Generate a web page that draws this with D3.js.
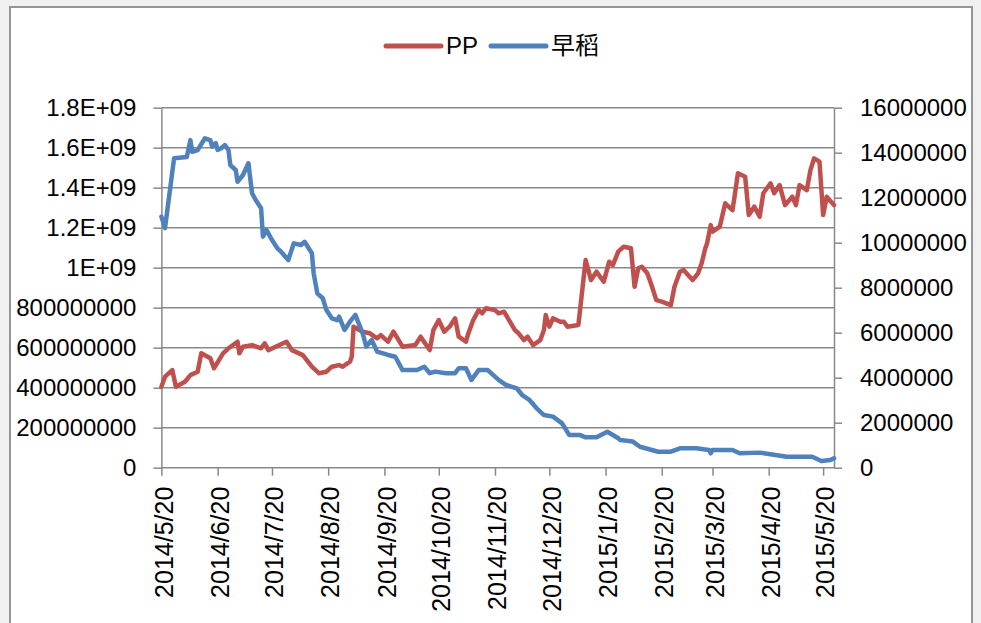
<!DOCTYPE html>
<html><head><meta charset="utf-8">
<script src="https://cdn.jsdelivr.net/npm/d3@7/dist/d3.min.js"></script>
<style>
html,body{margin:0;padding:0;background:#f0f0f0;}
svg{display:block;}
</style></head>
<body>
<svg id="chart" width="981" height="623"></svg>
<script>
// ---- data ----
const seriesNames = ["PP", "早稻"];
const xTickLabels = ["2014/5/20","2014/6/20","2014/7/20","2014/8/20","2014/9/20","2014/10/20","2014/11/20","2014/12/20","2015/1/20","2015/2/20","2015/3/20","2015/4/20","2015/5/20"];
const leftTickLabels = ["0","200000000","400000000","600000000","800000000","1E+09","1.2E+09","1.4E+09","1.6E+09","1.8E+09"];
const rightTickLabels = ["0","2000000","4000000","6000000","8000000","10000000","12000000","14000000","16000000"];

const ppDates = ["2014-05-20","2014-05-22","2014-05-26","2014-05-28","2014-06-02","2014-06-05","2014-06-09","2014-06-11","2014-06-16","2014-06-18","2014-06-23","2014-06-26","2014-07-01","2014-07-02","2014-07-04","2014-07-09","2014-07-14","2014-07-16","2014-07-18","2014-07-22","2014-07-28","2014-07-31","2014-08-06","2014-08-11","2014-08-15","2014-08-19","2014-08-22","2014-08-26","2014-08-28","2014-09-01","2014-09-02","2014-09-03","2014-09-08","2014-09-12","2014-09-16","2014-09-18","2014-09-22","2014-09-25","2014-09-30","2014-10-07","2014-10-10","2014-10-15","2014-10-17","2014-10-20","2014-10-23","2014-10-26","2014-10-29","2014-10-31","2014-11-04","2014-11-05","2014-11-08","2014-11-11","2014-11-13","2014-11-15","2014-11-20","2014-11-22","2014-11-25","2014-12-01","2014-12-03","2014-12-06","2014-12-08","2014-12-11","2014-12-15","2014-12-17","2014-12-18","2014-12-20","2014-12-22","2014-12-26","2014-12-28","2014-12-30","2015-01-05","2015-01-09","2015-01-12","2015-01-15","2015-01-19","2015-01-22","2015-01-24","2015-01-27","2015-01-30","2015-02-03","2015-02-05","2015-02-07","2015-02-09","2015-02-12","2015-02-14","2015-02-17","2015-02-20","2015-02-25","2015-02-27","2015-03-02","2015-03-04","2015-03-09","2015-03-12","2015-03-14","2015-03-16","2015-03-17","2015-03-19","2015-03-20","2015-03-24","2015-03-27","2015-03-31","2015-04-01","2015-04-03","2015-04-07","2015-04-09","2015-04-12","2015-04-15","2015-04-17","2015-04-21","2015-04-23","2015-04-26","2015-04-29","2015-05-03","2015-05-05","2015-05-07","2015-05-11","2015-05-13","2015-05-15","2015-05-18","2015-05-20","2015-05-22","2015-05-26"];
const ppValues = [405e6,455e6,488e6,405e6,430e6,463e6,480e6,572e6,547e6,497e6,572e6,597e6,630e6,572e6,605e6,613e6,597e6,622e6,588e6,605e6,630e6,588e6,563e6,505e6,472e6,480e6,505e6,513e6,505e6,530e6,555e6,705e6,680e6,672e6,647e6,663e6,630e6,680e6,605e6,613e6,655e6,588e6,688e6,738e6,680e6,705e6,747e6,655e6,630e6,663e6,738e6,788e6,772e6,797e6,788e6,772e6,780e6,688e6,672e6,638e6,655e6,613e6,638e6,688e6,763e6,705e6,747e6,730e6,730e6,705e6,713e6,1038e6,938e6,980e6,930e6,1030e6,1013e6,1080e6,1105e6,1097e6,905e6,997e6,1005e6,972e6,922e6,838e6,830e6,813e6,905e6,980e6,988e6,938e6,972e6,1022e6,1097e6,1122e6,1213e6,1180e6,1205e6,1322e6,1288e6,1347e6,1472e6,1455e6,1263e6,1305e6,1255e6,1372e6,1422e6,1372e6,1413e6,1313e6,1355e6,1313e6,1413e6,1388e6,1488e6,1547e6,1530e6,1263e6,1355e6,1313e6];

const riceDates = ["2014-05-20","2014-05-22","2014-05-27","2014-06-03","2014-06-05","2014-06-06","2014-06-09","2014-06-13","2014-06-16","2014-06-17","2014-06-19","2014-06-20","2014-06-22","2014-06-24","2014-06-26","2014-06-27","2014-06-30","2014-07-01","2014-07-04","2014-07-07","2014-07-09","2014-07-11","2014-07-14","2014-07-15","2014-07-17","2014-07-20","2014-07-23","2014-07-25","2014-07-29","2014-08-01","2014-08-05","2014-08-07","2014-08-11","2014-08-12","2014-08-14","2014-08-17","2014-08-19","2014-08-22","2014-08-25","2014-08-26","2014-08-29","2014-09-01","2014-09-04","2014-09-08","2014-09-10","2014-09-13","2014-09-16","2014-09-22","2014-09-26","2014-09-30","2014-10-08","2014-10-12","2014-10-15","2014-10-18","2014-10-24","2014-10-29","2014-10-31","2014-11-04","2014-11-07","2014-11-11","2014-11-16","2014-11-22","2014-11-26","2014-12-02","2014-12-05","2014-12-09","2014-12-13","2014-12-17","2014-12-22","2014-12-27","2014-12-31","2015-01-06","2015-01-09","2015-01-15","2015-01-21","2015-01-27","2015-01-28","2015-02-04","2015-02-08","2015-02-18","2015-02-25","2015-03-02","2015-03-11","2015-03-18","2015-03-19","2015-03-20","2015-03-31","2015-04-04","2015-04-15","2015-04-20","2015-04-30","2015-05-14","2015-05-19","2015-05-24","2015-05-26"];
const riceValues = [11.16e6,10.65e6,13.75e6,13.81e6,14.56e6,14.04e6,14.12e6,14.64e6,14.56e6,14.27e6,14.42e6,14.12e6,14.20e6,14.34e6,14.12e6,13.45e6,13.23e6,12.71e6,13.01e6,13.53e6,12.2e6,11.9e6,11.53e6,10.27e6,10.56e6,10.12e6,9.75e6,9.6e6,9.23e6,9.97e6,9.9e6,10.04e6,9.53e6,8.64e6,7.75e6,7.53e6,7.01e6,6.64e6,6.56e6,6.71e6,6.12e6,6.49e6,6.79e6,5.97e6,5.38e6,5.68e6,5.16e6,5.01e6,4.93e6,4.34e6,4.34e6,4.49e6,4.2e6,4.27e6,4.2e6,4.2e6,4.42e6,4.42e6,3.9e6,4.34e6,4.34e6,3.9e6,3.68e6,3.53e6,3.23e6,3.01e6,2.64e6,2.34e6,2.27e6,1.97e6,1.45e6,1.45e6,1.35e6,1.35e6,1.6e6,1.31e6,1.23e6,1.16e6,0.93e6,0.71e6,0.71e6,0.86e6,0.86e6,0.79e6,0.64e6,0.79e6,0.79e6,0.64e6,0.67e6,0.61e6,0.49e6,0.49e6,0.3e6,0.34e6,0.42e6];

const dateStart = "2014-05-20", dateEnd = "2015-05-26";
const leftMax = 1.8e9, rightMax = 16e6;

// ---- layout ----
const colors = ["#C0504D", "#4F81BD"];
const gridColor = "#898989";
const plot = {left: 161.4, right: 834, top: 107.7, bottom: 467.7};
const font = "'Liberation Sans', Arial, sans-serif";

const parse = d3.timeParse("%Y-%m-%d");
const fmtIn = d3.timeParse("%Y/%m/%d");

const svg = d3.select("#chart");

// frame
svg.append("rect").attr("x", 10).attr("y", 7).attr("width", 962).attr("height", 640)
  .attr("fill", "#fff").attr("stroke", "#959595").attr("stroke-width", 2);

const x = d3.scaleTime().domain([parse(dateStart), parse(dateEnd)]).range([plot.left, plot.right]);
const yL = d3.scaleLinear().domain([0, leftMax]).range([plot.bottom, plot.top]);
const yR = d3.scaleLinear().domain([0, rightMax]).range([plot.bottom, plot.top]);

const leftTicks = leftTickLabels.map((_, i) => i * leftMax / (leftTickLabels.length - 1));
const rightTicks = rightTickLabels.map((_, i) => i * rightMax / (rightTickLabels.length - 1));
const xTicks = xTickLabels.map(s => fmtIn(s));

// gridlines
svg.append("g").selectAll("line").data(leftTicks.slice(1)).join("line")
  .attr("x1", plot.left).attr("x2", plot.right)
  .attr("y1", d => yL(d)).attr("y2", d => yL(d))
  .attr("stroke", gridColor).attr("stroke-width", 1.5);

// left axis
const gL = svg.append("g").attr("transform", `translate(${plot.left},0)`)
  .call(d3.axisLeft(yL).tickValues(leftTicks).tickFormat((d, i) => leftTickLabels[i]).tickSize(8).tickSizeOuter(0).tickPadding(17));
// right axis
const gR = svg.append("g").attr("transform", `translate(${plot.right},0)`)
  .call(d3.axisRight(yR).tickValues(rightTicks).tickFormat((d, i) => rightTickLabels[i]).tickSize(8).tickSizeOuter(0).tickPadding(18));
// bottom axis
const gB = svg.append("g").attr("transform", `translate(0,${plot.bottom})`)
  .call(d3.axisBottom(x).tickValues(xTicks).tickFormat((d, i) => xTickLabels[i]).tickSize(8).tickSizeOuter(0));
gB.selectAll(".tick text")
  .attr("transform", "rotate(-90)")
  .attr("text-anchor", "end")
  .attr("x", -19).attr("y", 2).attr("dy", "0.35em")
  .style("font-size", "25px");

[gL, gR, gB].forEach(g => {
  g.select(".domain").attr("stroke", gridColor).attr("stroke-width", 1.5);
  g.selectAll(".tick line").attr("stroke", gridColor).attr("stroke-width", 1.5);
  g.selectAll(".tick text").attr("fill", "#000").style("font-family", font);
});
gL.selectAll(".tick text").style("font-size", "24px");
gR.selectAll(".tick text").style("font-size", "24px");
gB.select(".domain").attr("d", `M${plot.left},0H${plot.right}`);

// lines
const ppData = ppDates.map((d, i) => ({date: parse(d), value: ppValues[i]}));
const riceData = riceDates.map((d, i) => ({date: parse(d), value: riceValues[i]}));

svg.append("path").datum(ppData)
  .attr("fill", "none").attr("stroke", colors[0]).attr("stroke-width", 4.5)
  .attr("stroke-linejoin", "round").attr("stroke-linecap", "round")
  .attr("d", d3.line().x(d => x(d.date)).y(d => yL(d.value)));
svg.append("path").datum(riceData)
  .attr("fill", "none").attr("stroke", colors[1]).attr("stroke-width", 4.5)
  .attr("stroke-linejoin", "round").attr("stroke-linecap", "round")
  .attr("d", d3.line().x(d => x(d.date)).y(d => yR(d.value)));

// legend
const legend = [{x1: 386, x2: 441, tx: 446}, {x1: 491, x2: 546, tx: 551}];
legend.forEach((l, i) => {
  svg.append("line").attr("x1", l.x1).attr("x2", l.x2).attr("y1", 46).attr("y2", 46)
    .attr("stroke", colors[i]).attr("stroke-width", 5).attr("stroke-linecap", "round");
  svg.append("text").attr("x", l.tx).attr("y", 46).attr("dy", "0.35em")
    .style("font-family", i === 1 ? "'Noto Sans CJK SC', sans-serif" : font)
    .style("font-size", "24px").attr("fill", "#000").text(seriesNames[i]);
});
</script>
</body></html>
